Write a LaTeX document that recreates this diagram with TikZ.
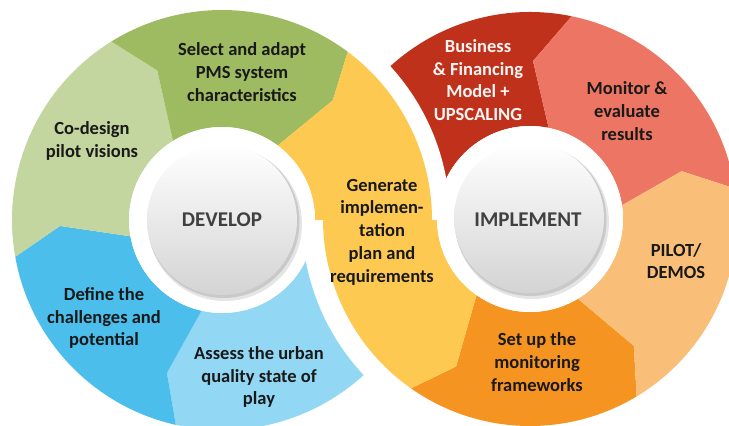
\documentclass[tikz,border=0pt]{standalone}
\usepackage{fontspec}
\setmainfont{Carlito}
\usetikzlibrary{calc}
\definecolor{cGreen}{RGB}{158,187,98}
\definecolor{cLGreen}{RGB}{196,214,160}
\definecolor{cBlue}{RGB}{75,190,236}
\definecolor{cLBlue}{RGB}{146,215,243}
\definecolor{cYellow}{RGB}{254,201,80}
\definecolor{cRed}{RGB}{192,49,28}
\definecolor{cSalmon}{RGB}{236,118,99}
\definecolor{cLOrange}{RGB}{249,190,120}
\definecolor{cOrange}{RGB}{246,148,34}
\definecolor{cText}{RGB}{64,64,64}
% ring segment: center, colour, start angle, start kink angle, start kink radius, end angle, end kink angle, end kink radius
\newcommand\rseg[8]{%
  \fill[#2] ($(#1)+(#3:\rin)$) -- ($(#1)+(#4:#5)$) -- ($(#1)+(#3:\rout)$)
    arc[start angle=#3, end angle=#6, radius=\rout]
    -- ($(#1)+(#7:#8)$) -- ($(#1)+(#6:\rin)$)
    arc[start angle=#6, end angle=#3, radius=\rin] -- cycle;}
% hub disc
\newcommand\hubdisc[1]{%
  \fill[black, opacity=0.10] ($(#1)+(3,4)$) circle[radius=77];
  \fill[black, opacity=0.12] ($(#1)+(1.5,2)$) circle[radius=76];
  \shade[top color=white, bottom color=black!17] (#1) circle[radius=75];}
\newcommand\leftring{%
  \def\rout{210}\def\rin{93}%
  \fill[white] (L) circle[radius=228];
  \rseg{L}{cLBlue}{20}{20}{152}{102.7}{109.8}{162.6}
  \rseg{L}{cBlue}{102.7}{109.8}{162.6}{169.9}{177.9}{162}
  \rseg{L}{cLGreen}{169.9}{177.9}{162}{238.2}{246.6}{163}
  \rseg{L}{cGreen}{238.2}{246.6}{163}{306.8}{312.8}{163}
  \rseg{L}{cYellow}{306.8}{312.8}{163}{380}{380}{152}
  \fill[white] (L) circle[radius=\rin];
  \hubdisc{LH}}
\newcommand\rightring{%
  \def\rout{207}\def\rin{93}%
  \fill[white] (R) circle[radius=228];
  \rseg{R}{cOrange}{59}{50.7}{164}{125.1}{116.6}{165}
  \rseg{R}{cYellow}{125.1}{116.6}{165}{195}{195}{150}
  \rseg{R}{cRed}{195}{195}{150}{281.6}{271.1}{158}
  \rseg{R}{cSalmon}{281.6}{271.1}{158}{351.5}{342.5}{159}
  \rseg{R}{cLOrange}{351.5}{342.5}{159}{419}{410.7}{164}
  \fill[white] (R) circle[radius=\rin];
  \hubdisc{RH}}
\begin{document}
\begin{tikzpicture}[x=1pt, y=1pt, yscale=-1,
  lbl/.style={align=center, inner sep=0pt, text=black!90,
    font=\fontsize{18.5}{22.7}\selectfont\bfseries},
  hub/.style={inner sep=0pt, text=cText, font=\fontsize{21}{24}\selectfont\bfseries}]
\useasboundingbox (0,0) rectangle (729,426);
\coordinate (L) at (222,220);
\coordinate (R) at (530,219);
\coordinate (LH) at (222,220);
\coordinate (RH) at (529,218);
\leftring
\rightring
\begin{scope}
  \clip (0,0) rectangle (729,219);
  \leftring
\end{scope}
\node[lbl] (t1) at (242,72) {Select and adapt\\PMS system\\characteristics};
\node[lbl] (t2) at (92,141) {Co-design\\pilot visions};
\node[lbl] (t3) at (104,318) {Define the\\challenges and\\potential};
\node[lbl] (t4) at (259,377) {Assess the urban\\quality state of\\play};
\node[lbl] (t5) at (382,232) {Generate\\implemen-\\tation\\plan and\\requirements};
\node[lbl, text=white!95!cRed] (t6) at (478,80) {Business\\\& Financing\\Model +\\UPSCALING};
\node[lbl] (t7) at (627,111) {Monitor \&\\evaluate\\results};
\node[lbl] (t8) at (676,261) {PILOT/\\DEMOS};
\node[lbl] (t9) at (537,362) {Set up the\\monitoring\\frameworks};
\node[hub] (d) at (222,220) {DEVELOP};
\node[hub] (i) at (528,220) {IMPLEMENT};
\end{tikzpicture}
\end{document}
